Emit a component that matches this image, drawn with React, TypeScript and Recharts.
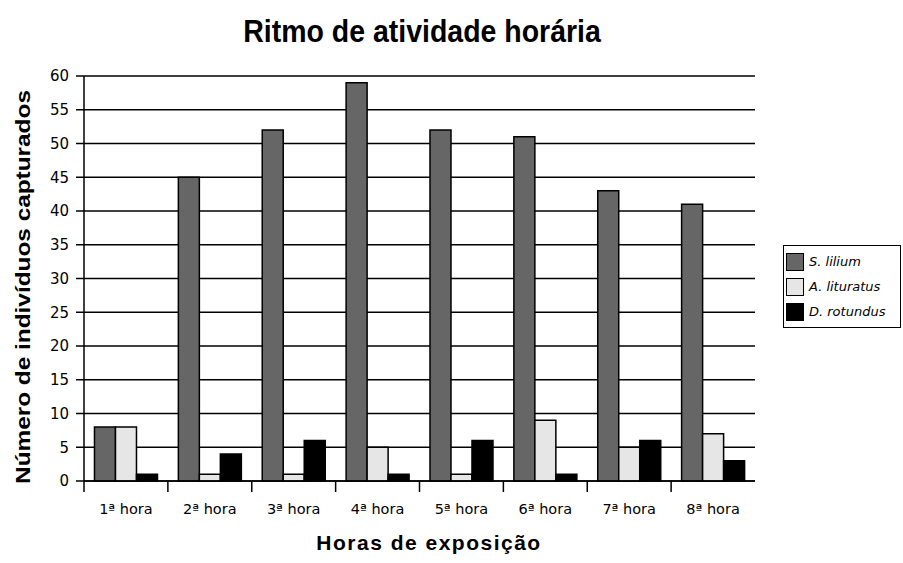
import { BarChart, Bar, XAxis, YAxis, CartesianGrid } from 'recharts';

const horas = ['1ª hora', '2ª hora', '3ª hora', '4ª hora', '5ª hora', '6ª hora', '7ª hora', '8ª hora'];
const sLilium = [8, 45, 52, 59, 52, 51, 43, 41];
const aLituratus = [8, 1, 1, 5, 1, 9, 5, 7];
const dRotundus = [1, 4, 6, 1, 6, 1, 6, 3];
const yTicks = [0, 5, 10, 15, 20, 25, 30, 35, 40, 45, 50, 55, 60];

const series = [
  { key: 'sLilium', name: 'S. lilium', color: '#666666' },
  { key: 'aLituratus', name: 'A. lituratus', color: '#e6e6e6' },
  { key: 'dRotundus', name: 'D. rotundus', color: '#000000' },
];

const data = horas.map((h, i) => ({
  hora: h,
  sLilium: sLilium[i],
  aLituratus: aLituratus[i],
  dRotundus: dRotundus[i],
}));

const W = 903;
const H = 563;
const xAxisHeight = 30;
const margin = { top: 76, right: 148, bottom: 82 - xAxisHeight, left: 0 };
const yAxisWidth = 84;
const bandWidth = (W - margin.left - margin.right - yAxisWidth) / horas.length;
const font = 'Arial, "Liberation Sans", sans-serif';
const tickFont = '"DejaVu Sans", Verdana, sans-serif';

function HoraTick(props: any) {
  const { x, y, payload } = props;
  return (
    <g>
      <line x1={x - bandWidth / 2} x2={x - bandWidth / 2} y1={y} y2={y + 11} stroke="#000" strokeWidth={1.5} />
      <text x={x} y={y + 33} textAnchor="middle" fontSize={14.5} fontFamily={tickFont} fill="#000">
        {payload.value}
      </text>
    </g>
  );
}

function LegendBox() {
  return (
    <div
      style={{
        position: 'absolute',
        left: 783,
        top: 245,
        width: 118,
        height: 83,
        border: '1.5px solid #000',
        padding: '3px 2px',
        background: '#fff',
        boxSizing: 'border-box',
      }}
    >
      {series.map((s) => (
        <div key={s.key} style={{ display: 'flex', alignItems: 'center', height: 25 }}>
          <div style={{ width: 16, height: 16, background: s.color, border: '1.5px solid #000', marginRight: 5 }} />
          <span style={{ fontFamily: tickFont, fontStyle: 'italic', fontSize: 13, color: '#000', whiteSpace: 'nowrap' }}>
            {s.name}
          </span>
        </div>
      ))}
    </div>
  );
}

export default function App() {
  return (
    <div style={{ position: 'absolute', left: 0, top: 0, width: W, height: H, background: '#fff', fontFamily: font }}>
      <div
        style={{
          position: 'absolute',
          left: 422,
          top: 15,
          transform: 'translateX(-50%) scaleX(0.89)',
          whiteSpace: 'nowrap',
          fontSize: 32,
          lineHeight: '32px',
          fontWeight: 'bold',
          color: '#000',
        }}
      >
        Ritmo de atividade horária
      </div>
      <div
        style={{
          position: 'absolute',
          left: 429,
          top: 532,
          transform: 'translateX(-50%)',
          whiteSpace: 'nowrap',
          fontSize: 21,
          lineHeight: '21px',
          letterSpacing: 1.5,
          fontWeight: 'bold',
          color: '#000',
        }}
      >
        Horas de exposição
      </div>
      <div
        style={{
          position: 'absolute',
          left: 22,
          top: 287,
          transform: 'translate(-50%, -50%) rotate(-90deg) scaleX(1.16)',
          whiteSpace: 'nowrap',
          fontSize: 21,
          lineHeight: '21px',
          fontWeight: 'bold',
          color: '#000',
        }}
      >
        Número de indivíduos capturados
      </div>
      <LegendBox />
      <BarChart width={W} height={H} data={data} margin={margin} barCategoryGap="12.5%" barGap={0}>
        <CartesianGrid vertical={false} stroke="#000" strokeWidth={1.5} />
        <XAxis
          dataKey="hora"
          height={xAxisHeight}
          tick={<HoraTick />}
          tickLine={false}
          tickSize={0}
          tickMargin={0}
          stroke="#000"
          strokeWidth={1.5}
          interval={0}
        />
        <YAxis
          width={yAxisWidth}
          domain={[0, 60]}
          ticks={yTicks}
          interval={0}
          stroke="#000"
          strokeWidth={1.5}
          tickSize={8}
          tickMargin={7}
          tick={{ fill: '#000', fontSize: 15, fontFamily: tickFont }}
        />
        {series.map((s) => (
          <Bar key={s.key} dataKey={s.key} name={s.name} fill={s.color} stroke="#000" strokeWidth={1.5} isAnimationActive={false} />
        ))}
      </BarChart>
    </div>
  );
}
